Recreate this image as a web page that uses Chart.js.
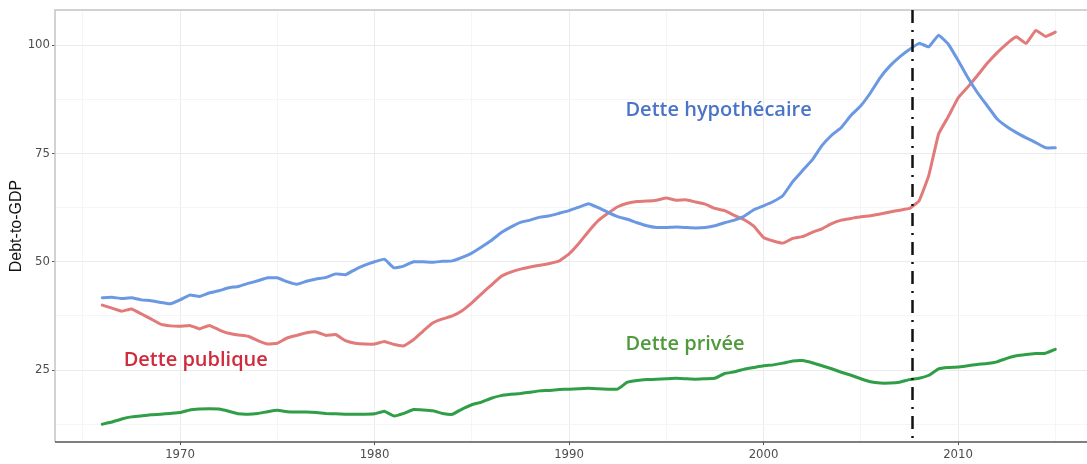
<!DOCTYPE html>
<html lang="fr">
<head>
    <meta charset="UTF-8">
    <title>Debt-to-GDP</title>
    <script src="https://cdn.jsdelivr.net/npm/chart.js"></script>
    <style>
        html, body { margin: 0; padding: 0; background: #fff; }
        #wrap { width: 1087px; height: 464px; }
    </style>
</head>
<body>
<div id="wrap"><canvas id="debtChart" width="1087" height="464"></canvas></div>

<script>
    // years, half-year steps from 1966 to 2015
    var years = [];
    for (var y = 1966; y <= 2015; y += 0.5) years.push(y);

    // Dette hypothécaire (blue)
    var mortgageDebt = [
        41.7, 41.8, 41.5, 41.7, 41.2, 41.0, 40.6, 40.3, 41.2, 42.3,
        42.0, 42.8, 43.3, 44.0, 44.3, 45.0, 45.6, 46.3, 46.3, 45.4,
        44.8, 45.5, 46.0, 46.4, 47.2, 47.0, 48.2, 49.2, 50.0, 50.6,
        48.6, 49.0, 50.0, 50.0, 49.9, 50.1, 50.2, 51.0, 52.0, 53.4,
        54.9, 56.7, 58.0, 59.1, 59.6, 60.3, 60.6, 61.2, 61.8, 62.6,
        63.4, 62.5, 61.4, 60.4, 59.8, 59.0, 58.3, 57.9, 57.9, 58.0,
        57.9, 57.8, 57.9, 58.3, 59.0, 59.6, 60.5, 62.0, 62.9, 63.9,
        65.3, 68.5, 71.0, 73.5, 76.8, 79.2, 81.0, 83.8, 86.0, 89.0,
        92.5, 95.2, 97.3, 99.0, 100.4, 99.6, 102.3, 100.2, 96.5, 92.5,
        89.0, 86.0, 83.0, 81.2, 79.8, 78.6, 77.5, 76.3, 76.3
    ];

    // Dette publique (red)
    var publicDebt = [
        40.0, 39.3, 38.6, 39.1, 38.0, 36.8, 35.6, 35.2, 35.1, 35.3,
        34.5, 35.3, 34.3, 33.5, 33.1, 32.8, 31.8, 31.0, 31.2, 32.4,
        33.0, 33.6, 33.8, 33.0, 33.2, 31.8, 31.2, 31.0, 31.0, 31.6,
        30.9, 30.6, 32.0, 34.0, 35.9, 36.8, 37.5, 38.7, 40.5, 42.6,
        44.6, 46.6, 47.6, 48.3, 48.8, 49.2, 49.6, 50.2, 51.8, 54.2,
        57.0, 59.5, 61.2, 62.7, 63.5, 63.9, 64.0, 64.2, 64.7, 64.2,
        64.3, 63.8, 63.3, 62.3, 61.8, 60.7, 59.7, 58.2, 55.6, 54.8,
        54.3, 55.4, 55.8, 56.8, 57.6, 58.8, 59.6, 60.0, 60.4, 60.6,
        61.0, 61.5, 61.9, 62.3, 64.1, 70.0, 79.5, 83.5, 87.8, 90.3,
        93.0, 95.8, 98.2, 100.3, 101.9, 100.4, 103.4, 102.0, 103.0
    ];

    // Dette privée (green)
    var privateDebt = [
        12.5, 13.0, 13.7, 14.2, 14.4, 14.7, 14.8, 15.0, 15.2, 15.8,
        16.0, 16.1, 16.0, 15.5, 14.9, 14.8, 15.0, 15.4, 15.7, 15.4,
        15.3, 15.3, 15.2, 15.0, 14.9, 14.8, 14.8, 14.8, 14.9, 15.5,
        14.4, 15.0, 15.9, 15.8, 15.6, 15.0, 14.8, 16.0, 17.0, 17.6,
        18.5, 19.1, 19.4, 19.6, 19.9, 20.2, 20.3, 20.5, 20.6, 20.7,
        20.8, 20.7, 20.6, 20.6, 22.2, 22.6, 22.8, 22.9, 23.0, 23.1,
        23.0, 22.9, 23.0, 23.1, 24.2, 24.6, 25.2, 25.6, 26.0, 26.2,
        26.6, 27.1, 27.2, 26.7, 26.0, 25.3, 24.5, 23.8, 23.0, 22.3,
        22.0, 22.0, 22.2, 22.8, 23.1, 23.8, 25.3, 25.6, 25.7, 26.0,
        26.3, 26.5, 26.9, 27.7, 28.3, 28.6, 28.8, 28.9, 29.8
    ];

    var xTicks = [1965, 1970, 1975, 1980, 1985, 1990, 1995, 2000, 2005, 2010, 2015];
    var yTicks = [12.5, 25, 37.5, 50, 62.5, 75, 87.5, 100];
    var crisisYear = 2007.65;

    // series labels placed in data coordinates
    var seriesLabels = [
        { text: 'Dette hypothécaire', x: 1992.9, y: 85.0, color: '#4a74c8' },
        { text: 'Dette publique', x: 1967.1, y: 27.3, color: '#d02a3c' },
        { text: 'Dette privée', x: 1992.9, y: 31.0, color: '#4f9a3a' }
    ];

    function points(values) {
        return values.map(function (v, i) { return { x: years[i], y: v }; });
    }

    // vertical dash-dot line, panel border and text labels
    var extras = {
        id: 'extras',
        beforeDatasetsDraw: function (chart) {
            var ctx = chart.ctx, a = chart.chartArea;
            ctx.save();
            ctx.strokeStyle = '#c4c4c4';
            ctx.lineWidth = 1.5;
            ctx.beginPath();
            ctx.moveTo(a.left, a.bottom);
            ctx.lineTo(a.left, a.top);
            ctx.lineTo(a.right, a.top);
            ctx.stroke();
            ctx.strokeStyle = '#555';
            ctx.lineWidth = 1.5;
            ctx.beginPath();
            ctx.moveTo(a.left, a.bottom);
            ctx.lineTo(a.right, a.bottom);
            ctx.stroke();
            ctx.restore();
        },
        afterDatasetsDraw: function (chart) {
            var ctx = chart.ctx, a = chart.chartArea;
            var xs = chart.scales.x, ys = chart.scales.y;
            ctx.save();
            var px = Math.round(xs.getPixelForValue(crisisYear)) + 0.5;
            ctx.strokeStyle = '#111';
            ctx.lineWidth = 2.5;
            ctx.setLineDash([13, 7, 2, 7]);
            ctx.beginPath();
            ctx.moveTo(px, a.top);
            ctx.lineTo(px, a.bottom);
            ctx.stroke();
            ctx.setLineDash([]);

            ctx.font = '600 20px "Open Sans", Lato, sans-serif';
            ctx.textBaseline = 'middle';
            ctx.textAlign = 'left';
            seriesLabels.forEach(function (l) {
                ctx.fillStyle = l.color;
                ctx.fillText(l.text, xs.getPixelForValue(l.x), ys.getPixelForValue(l.y));
            });
            ctx.restore();
        }
    };

    var ctx = document.getElementById('debtChart').getContext('2d');
    var debtChart = new Chart(ctx, {
        type: 'line',
        data: {
            datasets: [
                { label: 'Dette hypothécaire', data: points(mortgageDebt), borderColor: '#6a98e2' },
                { label: 'Dette publique', data: points(publicDebt), borderColor: '#e27a7a' },
                { label: 'Dette privée', data: points(privateDebt), borderColor: '#2f9e46' }
            ]
        },
        options: {
            responsive: false,
            animation: false,
            parsing: false,
            layout: { padding: { left: 0, right: 0, top: 10, bottom: 0 } },
            elements: {
                point: { radius: 0 },
                line: { borderWidth: 3, tension: 0.1, borderJoinStyle: 'round', borderCapStyle: 'round' }
            },
            plugins: {
                legend: { display: false },
                tooltip: { enabled: false }
            },
            scales: {
                x: {
                    type: 'linear',
                    min: 1963.57,
                    max: 2016.63,
                    afterBuildTicks: function (axis) {
                        axis.ticks = xTicks.map(function (v) { return { value: v }; });
                    },
                    afterFit: function (axis) { axis.height = 22; },
                    border: { display: false },
                    grid: {
                        color: function (c) { return c.tick && c.tick.value % 10 === 0 ? '#ebebeb' : '#f5f5f5'; },
                        lineWidth: 1,
                        tickLength: 3,
                        tickColor: function (c) { return c.tick && c.tick.value % 10 === 0 ? '#555' : 'rgba(0,0,0,0)'; }
                    },
                    ticks: {
                        autoSkip: false,
                        maxRotation: 0,
                        padding: 2,
                        color: '#4d4d4d',
                        font: { family: '"Liberation Sans Narrow", "DejaVu Sans Condensed", Arial, sans-serif', size: 13 },
                        callback: function (v) { return v % 10 === 0 ? String(v) : ''; }
                    }
                },
                y: {
                    min: 8.4,
                    max: 108.1,
                    afterBuildTicks: function (axis) {
                        axis.ticks = yTicks.map(function (v) { return { value: v }; });
                    },
                    afterFit: function (axis) { axis.width = 55; },
                    border: { display: false },
                    grid: {
                        color: function (c) { return c.tick && c.tick.value % 25 === 0 ? '#ebebeb' : '#f5f5f5'; },
                        lineWidth: 1,
                        tickLength: 3,
                        tickColor: function (c) { return c.tick && c.tick.value % 25 === 0 ? '#555' : 'rgba(0,0,0,0)'; }
                    },
                    ticks: {
                        padding: 2,
                        color: '#4d4d4d',
                        font: { family: '"Liberation Sans Narrow", "DejaVu Sans Condensed", Arial, sans-serif', size: 13 },
                        callback: function (v) { return v % 25 === 0 ? String(v) : ''; }
                    },
                    title: {
                        display: true,
                        text: 'Debt-to-GDP',
                        color: '#111',
                        padding: { top: 7, bottom: 0 },
                        font: { family: '"Liberation Sans", Arial, sans-serif', size: 16 }
                    }
                }
            }
        },
        plugins: [extras]
    });
</script>
</body>
</html>
